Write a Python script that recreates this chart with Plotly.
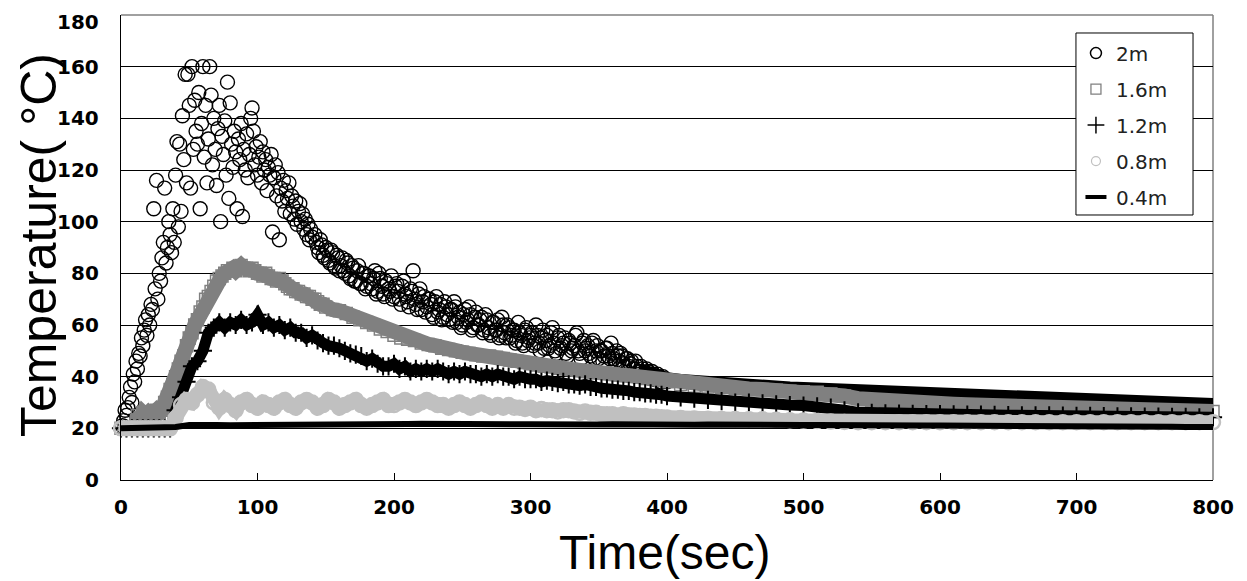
import plotly.graph_objects as go

# ---------------- data ----------------
# 2m series: scattered points, 1 s sampling for 0-140 s
T_2M_EARLY = list(range(0, 141))
Y_2M_EARLY = [
    20, 21, 23, 27, 25, 28, 32, 36, 30, 41,
    38, 46, 43, 49, 48, 55, 52, 58, 62, 56,
    64, 60, 68, 66, 105, 74, 116, 70, 80, 77,
    86, 92, 113, 84, 90, 100, 95, 88, 105, 92,
    118, 131, 98, 130, 104, 141, 124, 157, 115, 157,
    145, 113, 160, 128, 147, 135, 130, 150, 105, 138,
    160, 125, 145, 115, 132, 160, 149, 122, 140, 128,
    114, 136, 145, 100, 133, 126, 139, 118, 154, 109,
    146, 130, 121, 135, 127, 105, 132, 124, 138, 102,
    128, 120, 134, 117, 126, 140, 144, 135, 122, 129,
    118, 125, 131, 115, 127, 120, 124, 112, 121, 118,
    126, 96, 117, 122, 110, 119, 93, 113, 108, 116,
    104, 112, 109, 115, 103, 110, 106, 101, 108, 99,
    104, 107, 100, 103, 97, 101, 95, 99, 93, 97,
    94,
]
# 2m series: even seconds 142-400 s
T_2M_MID = list(range(142, 401, 2))
Y_2M_MID = [
    95, 90, 93, 87, 90, 85, 89, 83, 87, 81,
    86, 80, 84, 78, 82, 77, 83, 76, 80, 75,
    79, 74, 81, 73, 78, 72, 77, 74, 79, 71,
    76, 70, 75, 72, 69, 74, 81, 68, 72, 66,
    71, 67, 70, 64, 69, 65, 68, 63, 67, 62,
    66, 69, 61, 65, 60, 66, 62, 64, 59, 65,
    60, 63, 58, 62, 57, 61, 58, 62, 56, 60,
    55, 59, 56, 58, 54, 57, 53, 58, 54, 56,
    52, 60, 53, 55, 51, 56, 52, 59, 50, 55,
    51, 53, 49, 54, 50, 52, 57, 49, 53, 50,
    52, 48, 54, 50, 47, 50, 48, 51, 47, 49,
    46, 48, 49, 45, 47, 44, 46, 43, 44, 42,
    43, 41, 42, 40, 41, 39, 40, 38, 39, 38,
]
# 2m series: odd seconds 143-399 s
T_2M_ODD = list(range(143, 400, 2))
Y_2M_ODD = [
    92, 88, 91, 86, 89, 84, 88, 82, 86, 83,
    81, 85, 79, 83, 77, 81, 76, 80, 74, 79,
    76, 78, 72, 80, 75, 71, 76, 73, 70, 75,
    73, 68, 77, 71, 67, 73, 70, 66, 74, 69,
    65, 70, 68, 63, 71, 66, 62, 69, 64, 66,
    61, 67, 63, 59, 64, 61, 67, 58, 63, 60,
    62, 57, 64, 59, 56, 61, 58, 55, 63, 57,
    60, 55, 58, 53, 61, 56, 52, 59, 55, 57,
    53, 56, 50, 58, 54, 51, 57, 53, 49, 56,
    52, 55, 48, 53, 51, 56, 50, 47, 54, 51,
    49, 53, 47, 52, 50, 46, 51, 48, 53, 47,
    50, 46, 48, 44, 47, 45, 43, 46, 42, 44,
    41, 43, 40, 42, 39, 41, 38, 40, 39,
]
# 2m series: dense tail (points merge into a solid band)
T_2M_TAIL = list(range(380, 801, 10))
Y_2M_TAIL = [
    42.5, 40.5, 39, 38.3, 37.8, 37.3, 37, 36.7, 36.3, 36,
    35.7, 35.4, 35.2, 35, 34.6, 34, 33.3, 33.5, 33.3, 33,
    32.8, 32.6, 32.4, 32.2, 32, 31.9, 31.7, 31.6, 31.4, 31.3,
    31.2, 31.1, 31, 30.8, 30.6, 30.4, 30.2, 30, 29.8, 29.6,
    29.4, 29.2, 29,
]

# 1.6m series
T_16 = list(range(0, 151, 2)) + list(range(155, 401, 5)) + list(range(410, 801, 10))
Y_16 = [
    20, 20, 20, 20, 20, 20,
    25, 24, 26, 25, 26, 25, 26, 27, 26, 27,
    30, 32, 35, 37, 40,
    43, 46, 48, 52, 55,
    57, 60, 62, 65, 67,
    70, 71, 73, 75, 77,
    78, 79, 80, 81, 81,
    82, 81, 82, 83, 82,
    82, 81, 82, 81, 80,
    80, 79, 80, 79, 78,
    78, 77, 78, 77, 76,
    75, 74, 74, 73, 73,
    72, 72, 71, 71, 70,
    70, 69, 68, 68, 67,
    # 155-400 step 5
    66, 65.5, 64.5, 63, 62, 61, 60, 58.5, 57.5, 56,
    55, 54.5, 54, 53, 52.5, 52, 51, 50.5, 50, 49.5,
    49, 48.5, 48, 48, 47.5, 47, 46.5, 46, 45.5, 45,
    44.5, 44, 43.8, 43.3, 43, 42.8, 42.5, 42, 42, 41.5,
    41.5, 41, 40.7, 40.5, 40.2, 39.8, 39.3, 39, 38.5, 38,
    # 410-800 step 10
    37, 36.3, 36, 35.8, 35.5, 35.2, 35, 34.7, 34.4, 34.2,
    34, 33.3, 32.5, 31.5, 31, 30.6, 30.3, 30, 29.8, 29.5,
    29.3, 29.1, 28.9, 28.7, 28.5, 28.4, 28.2, 28.1, 28, 27.8,
    27.7, 27.5, 27.4, 27.2, 27.1, 27, 26.8, 26.7, 26.6, 26.5,
]

# 1.2m series
T_12 = list(range(0, 401, 4)) + list(range(410, 801, 10))
Y_12 = [
    20, 20, 20, 20, 20, 20, 20, 20, 20, 20,
    27, 32, 38, 44, 46, 50, 57, 59, 61, 59,
    61, 60, 62, 60, 61, 64, 60, 61, 59, 60,
    58, 59, 57, 57, 55, 56, 54, 53, 52, 52,
    51, 50, 49, 48.5, 48, 46, 47, 45, 44, 44,
    45, 43, 44, 42, 43, 42, 43, 42, 43, 42,
    41, 42, 41, 42, 41, 41, 40, 41, 40, 41,
    40, 40, 39, 40, 39, 39, 39, 38, 38.5, 38,
    37.5, 38, 37, 37, 36.5, 37, 36, 36, 35.5, 35.5,
    35, 35, 34.5, 34.5, 34, 34, 33.5, 33.5, 33, 33,
    32.5,
    # 410-800 step 10
    32, 31.5, 31, 30.5, 30, 30, 29.7, 29.3, 29, 28.8,
    28.5, 28, 27, 26.2, 26, 25.8, 25.7, 25.6, 25.5, 25.5,
    25.4, 25.3, 25.3, 25.2, 25.1, 25, 25, 25, 24.9, 24.8,
    24.8, 24.7, 24.6, 24.6, 24.5, 24.5, 24.4, 24.4, 24.3, 24.3,
]

# 0.8m series
T_08 = list(range(0, 401, 4)) + list(range(410, 801, 10))
Y_08 = [
    20, 20, 20, 20, 20, 20, 20, 20, 20, 20,
    24, 29, 31, 30, 33, 36, 35, 30, 28, 31,
    29, 27, 30, 31, 29, 28, 30, 29, 28, 30,
    31, 29, 28, 30, 31, 30, 28, 29, 31, 30,
    28, 29, 30, 31, 29, 28, 29, 30, 31, 29,
    29, 30, 31, 30, 29, 30, 31, 30, 29, 29,
    28, 29, 30, 29, 28, 29, 30, 29, 28, 29,
    28, 29, 28, 28, 27.5, 28, 27, 27.5, 27, 27,
    26.5, 27, 27, 26.5, 26, 26.5, 26, 26, 25.5, 25.5,
    25.5, 25, 25.5, 25, 25, 24.8, 24.8, 24.5, 24.5, 24.3,
    24.2,
    # 410-800 step 10
    24, 23.8, 23.7, 23.6, 23.6, 23.5, 23.5, 23.3, 23.1, 23,
    22.8, 22.6, 22.5, 22.4, 22.4, 22.4, 22.4, 22.4, 22.4, 22.4,
    22.4, 22.4, 22.4, 22.4, 22.4, 22.4, 22.4, 22.4, 22.4, 22.4,
    22.4, 22.4, 22.4, 22.4, 22.4, 22.4, 22.4, 22.4, 22.4, 22.4,
]

# 0.4m series
T_04 = list(range(0, 801, 10))
Y_04 = [
    20, 20, 20, 20, 20.5, 21.3, 21.5, 21.3, 21.2, 21.2,
    21.3, 21.3, 21.2, 21.3, 21.3, 21.4, 21.3, 21.4, 21.5, 21.5,
    21.6, 21.7, 21.8, 21.7, 21.6, 21.6, 21.7, 21.6, 21.6, 21.6,
    21.6, 21.5, 21.6, 21.6, 21.5, 21.5, 21.6, 21.5, 21.5, 21.5,
    21.5, 21.5, 21.4, 21.5, 21.4, 21.4, 21.4, 21.3, 21.3, 21.3,
    21.3, 21.3, 21.2, 21.2, 21.2, 21.2, 21.1, 21.1, 21.1, 21.1,
    21.1, 21.1, 21.1, 21, 21, 21, 21, 21, 21, 21,
    21, 21, 21, 21, 21, 20.9, 20.8, 20.6, 20.5, 20.5,
    20.5,
]

SERIES_NAMES = ["2m", "1.6m", "1.2m", "0.8m", "0.4m"]
X_TICKS = [0, 100, 200, 300, 400, 500, 600, 700, 800]
Y_TICKS = [0, 20, 40, 60, 80, 100, 120, 140, 160, 180]

GRAY = "#808080"
LIGHT = "#C0C0C0"

fig = go.Figure()

# 2m scattered circles
fig.add_trace(go.Scatter(
    x=T_2M_EARLY + T_2M_MID + T_2M_ODD, y=Y_2M_EARLY + Y_2M_MID + Y_2M_ODD, mode="markers",
    marker=dict(symbol="circle-open", size=14, color="black", line=dict(width=1.4, color="black")),
    showlegend=False, cliponaxis=False, hoverinfo="skip"))
# 2m tail (merged band)
fig.add_trace(go.Scatter(
    x=T_2M_TAIL, y=Y_2M_TAIL, mode="lines",
    line=dict(color="black", width=14),
    showlegend=False, hoverinfo="skip"))
# 1.6m
fig.add_trace(go.Scatter(
    x=T_16, y=Y_16, mode="lines+markers",
    line=dict(color=GRAY, width=15),
    marker=dict(symbol="square-open", size=12, color=GRAY, line=dict(width=1.5, color=GRAY)),
    showlegend=False, cliponaxis=False, hoverinfo="skip"))
# 1.2m
fig.add_trace(go.Scatter(
    x=T_12, y=Y_12, mode="lines+markers",
    line=dict(color="black", width=11),
    marker=dict(symbol="cross-thin-open", size=13, color="black", line=dict(width=2, color="black")),
    showlegend=False, cliponaxis=False, hoverinfo="skip"))
# 0.8m
fig.add_trace(go.Scatter(
    x=T_08, y=Y_08, mode="lines+markers",
    line=dict(color=LIGHT, width=14),
    marker=dict(symbol="circle-open", size=14, color=LIGHT, line=dict(width=2.5, color=LIGHT)),
    showlegend=False, cliponaxis=False, hoverinfo="skip"))
# 0.4m
fig.add_trace(go.Scatter(
    x=T_04, y=Y_04, mode="lines",
    line=dict(color="black", width=6),
    showlegend=False, hoverinfo="skip"))

# legend entries
legend_markers = [
    dict(symbol="circle-open", size=11, color="black", line=dict(width=1.5, color="black")),
    dict(symbol="square-open", size=10, color=GRAY, line=dict(width=1.3, color=GRAY)),
    dict(symbol="cross-thin-open", size=12, color="black", line=dict(width=1.5, color="black")),
    dict(symbol="circle-open", size=9, color=LIGHT, line=dict(width=1.2, color=LIGHT)),
    dict(symbol="line-ew-open", size=15, color="black", line=dict(width=4, color="black")),
]
for i, (nm, mk) in enumerate(zip(SERIES_NAMES, legend_markers)):
    fig.add_trace(go.Scatter(x=[None], y=[None], mode="markers", name=nm,
                             marker=mk, legendgroup=f"g{i}", showlegend=True))

tickfont = dict(family="DejaVu Sans", size=20, color="black", weight="bold")

# y tick labels (placed through the y scale; the top one kept inside the page)
y_label_annotations = []
for v in Y_TICKS:
    top = (v == Y_TICKS[-1])
    y_label_annotations.append(dict(
        text=str(v), xref="paper", yref="y", x=-0.0183, y=v,
        xanchor="right", yanchor="top" if top else "middle",
        yshift=7 if top else 0, showarrow=False, font=tickfont))

TOP = 7  # plot top margin (page body adds 8px)
fig.update_layout(
    width=1239, height=573,
    margin=dict(l=113, r=34, t=TOP, b=101, autoexpand=False),
    paper_bgcolor="white", plot_bgcolor="white",
    xaxis=dict(range=[0, 800], tickvals=X_TICKS, ticktext=[str(v) for v in X_TICKS],
               ticks="inside", ticklen=7, tickwidth=1, tickcolor="black",
               showline=True, linecolor="black", linewidth=1, showgrid=False,
               zeroline=False, tickfont=tickfont, ticklabelstandoff=9,
               ticklabeloverflow="allow"),
    yaxis=dict(range=[0, 180], tickvals=Y_TICKS, showticklabels=False,
               ticks="inside", ticklen=7, tickwidth=1, tickcolor="black",
               showline=True, linecolor="black", linewidth=1,
               showgrid=True, gridcolor="black", gridwidth=1,
               zeroline=False),
    legend=dict(x=0.8745, xanchor="left", y=0.960, yanchor="top",
                bgcolor="rgba(0,0,0,0)", borderwidth=0,
                font=dict(family="DejaVu Sans", size=20, color="#222"),
                tracegroupgap=7, itemwidth=30),
    shapes=[
        dict(type="line", xref="paper", yref="paper", x0=0, x1=1, y0=1, y1=1,
             line=dict(color=GRAY, width=1.5), layer="above"),
        dict(type="line", xref="paper", yref="paper", x0=1, x1=1, y0=0, y1=1,
             line=dict(color=GRAY, width=1.5), layer="below"),
        dict(type="rect", xref="paper", yref="paper", x0=0.8745, x1=0.9817,
             y0=0.5699, y1=0.9613, line=dict(color="black", width=1),
             fillcolor="white", layer="above"),
    ],
    annotations=y_label_annotations + [
        dict(text="Time(sec)", xref="paper", yref="paper", x=0.498, y=-0.155,
             xanchor="center", yanchor="middle", showarrow=False,
             font=dict(family="Liberation Sans", size=48, color="black")),
        dict(text="Temperature( °C)", xref="paper", yref="paper", x=-0.075, y=0.5054,
             xanchor="center", yanchor="middle", showarrow=False, textangle=-90,
             font=dict(family="Liberation Sans", size=50, color="black")),
    ],
)

fig.write_html("out.html")
